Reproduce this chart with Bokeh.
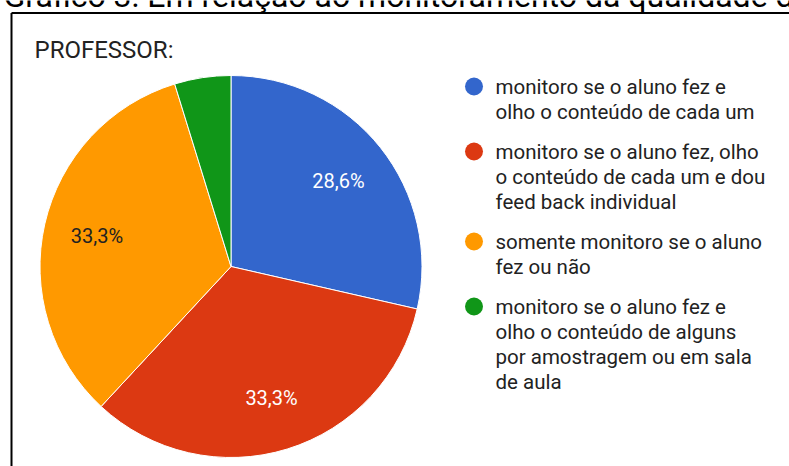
import math
from bokeh.plotting import figure
from bokeh.models import Range1d, ColumnDataSource
from bokeh.core.properties import value
from bokeh.embed import file_html
from bokeh.resources import INLINE

# ---- data ----
title_text = "Gráfico 3: Em relação ao monitoramento da qualidade d"
subtitle_text = "PROFESSOR:"
categories = [
    "monitoro se o aluno fez e\nolho o conteúdo de cada um",
    "monitoro se o aluno fez, olho\no conteúdo de cada um e dou\nfeed back individual",
    "somente monitoro se o aluno\nfez ou não",
    "monitoro se o aluno fez e\nolho o conteúdo de alguns\npor amostragem ou em sala\nde aula",
]
counts = [6, 7, 7, 1]
pct_labels = ["28,6%", "33,3%", "33,3%", ""]
colors = ["#3366CC", "#DC3912", "#FF9900", "#109618"]
label_colors = ["#FFFFFF", "#FFFFFF", "#222222", "#FFFFFF"]

W, H = 789, 466
FONT = "Roboto"

p = figure(width=W, height=H, x_range=Range1d(0, W), y_range=Range1d(-H, 0),
           x_axis_type=None, y_axis_type=None, toolbar_location=None,
           output_backend="svg", min_border=0, outline_line_color=None)
p.grid.visible = False
p.background_fill_color = "white"

# title (partly cut off at top, as in the reference)
p.text(x=[3], y=[5], text=[title_text], text_font=value(FONT), text_font_size="32px",
       text_color="#000000", text_baseline="alphabetic", text_align="left")

# frame of the chart box
p.segment(x0=[11, 11], y0=[-12.5, -12.5], x1=[800, 11], y1=[-12.5, -480],
          line_color="#000000", line_width=2)

p.text(x=[34], y=[-49], text=[subtitle_text], text_font=value(FONT), text_font_size="24px",
       text_color="#222222", text_baseline="middle", text_align="left")

# pie
cx, cy, r = 230.5, -266, 191
total = sum(counts)
starts, ends, lx, ly = [], [], [], []
cum = 0
for c in counts:
    a0 = math.pi / 2 - 2 * math.pi * cum / total
    cum += c
    a1 = math.pi / 2 - 2 * math.pi * cum / total
    starts.append(a0)
    ends.append(a1)
    mid = (a0 + a1) / 2
    lx.append(cx + 0.72 * r * math.cos(mid))
    ly.append(cy + 0.72 * r * math.sin(mid))

src = ColumnDataSource(dict(start=starts, end=ends, color=colors))
p.wedge(x=cx, y=cy, radius=r, start_angle="start", end_angle="end", direction="clock",
        fill_color="color", line_color="white", line_width=1, source=src)

p.text(x=lx, y=ly, text=pct_labels, text_color=label_colors, text_font=value(FONT),
       text_font_size="20px", text_align="center", text_baseline="middle")

# legend
lead = 25
gap = 15
y = -86
mx, my, tx, ty, tt = [], [], [], [], []
for lab in categories:
    lines = lab.split("\n")
    mx.append(473.5)
    my.append(y)
    for i, ln in enumerate(lines):
        tx.append(495)
        ty.append(y - i * lead)
        tt.append(ln)
    y -= len(lines) * lead + gap

p.scatter(x=mx, y=my, size=18, marker="circle", fill_color=colors, line_color=None)
p.text(x=tx, y=ty, text=tt, text_font=value(FONT), text_font_size="20.5px",
       text_color="#222222", text_align="left", text_baseline="middle")

open("out.html", "w").write(file_html(p, INLINE))
